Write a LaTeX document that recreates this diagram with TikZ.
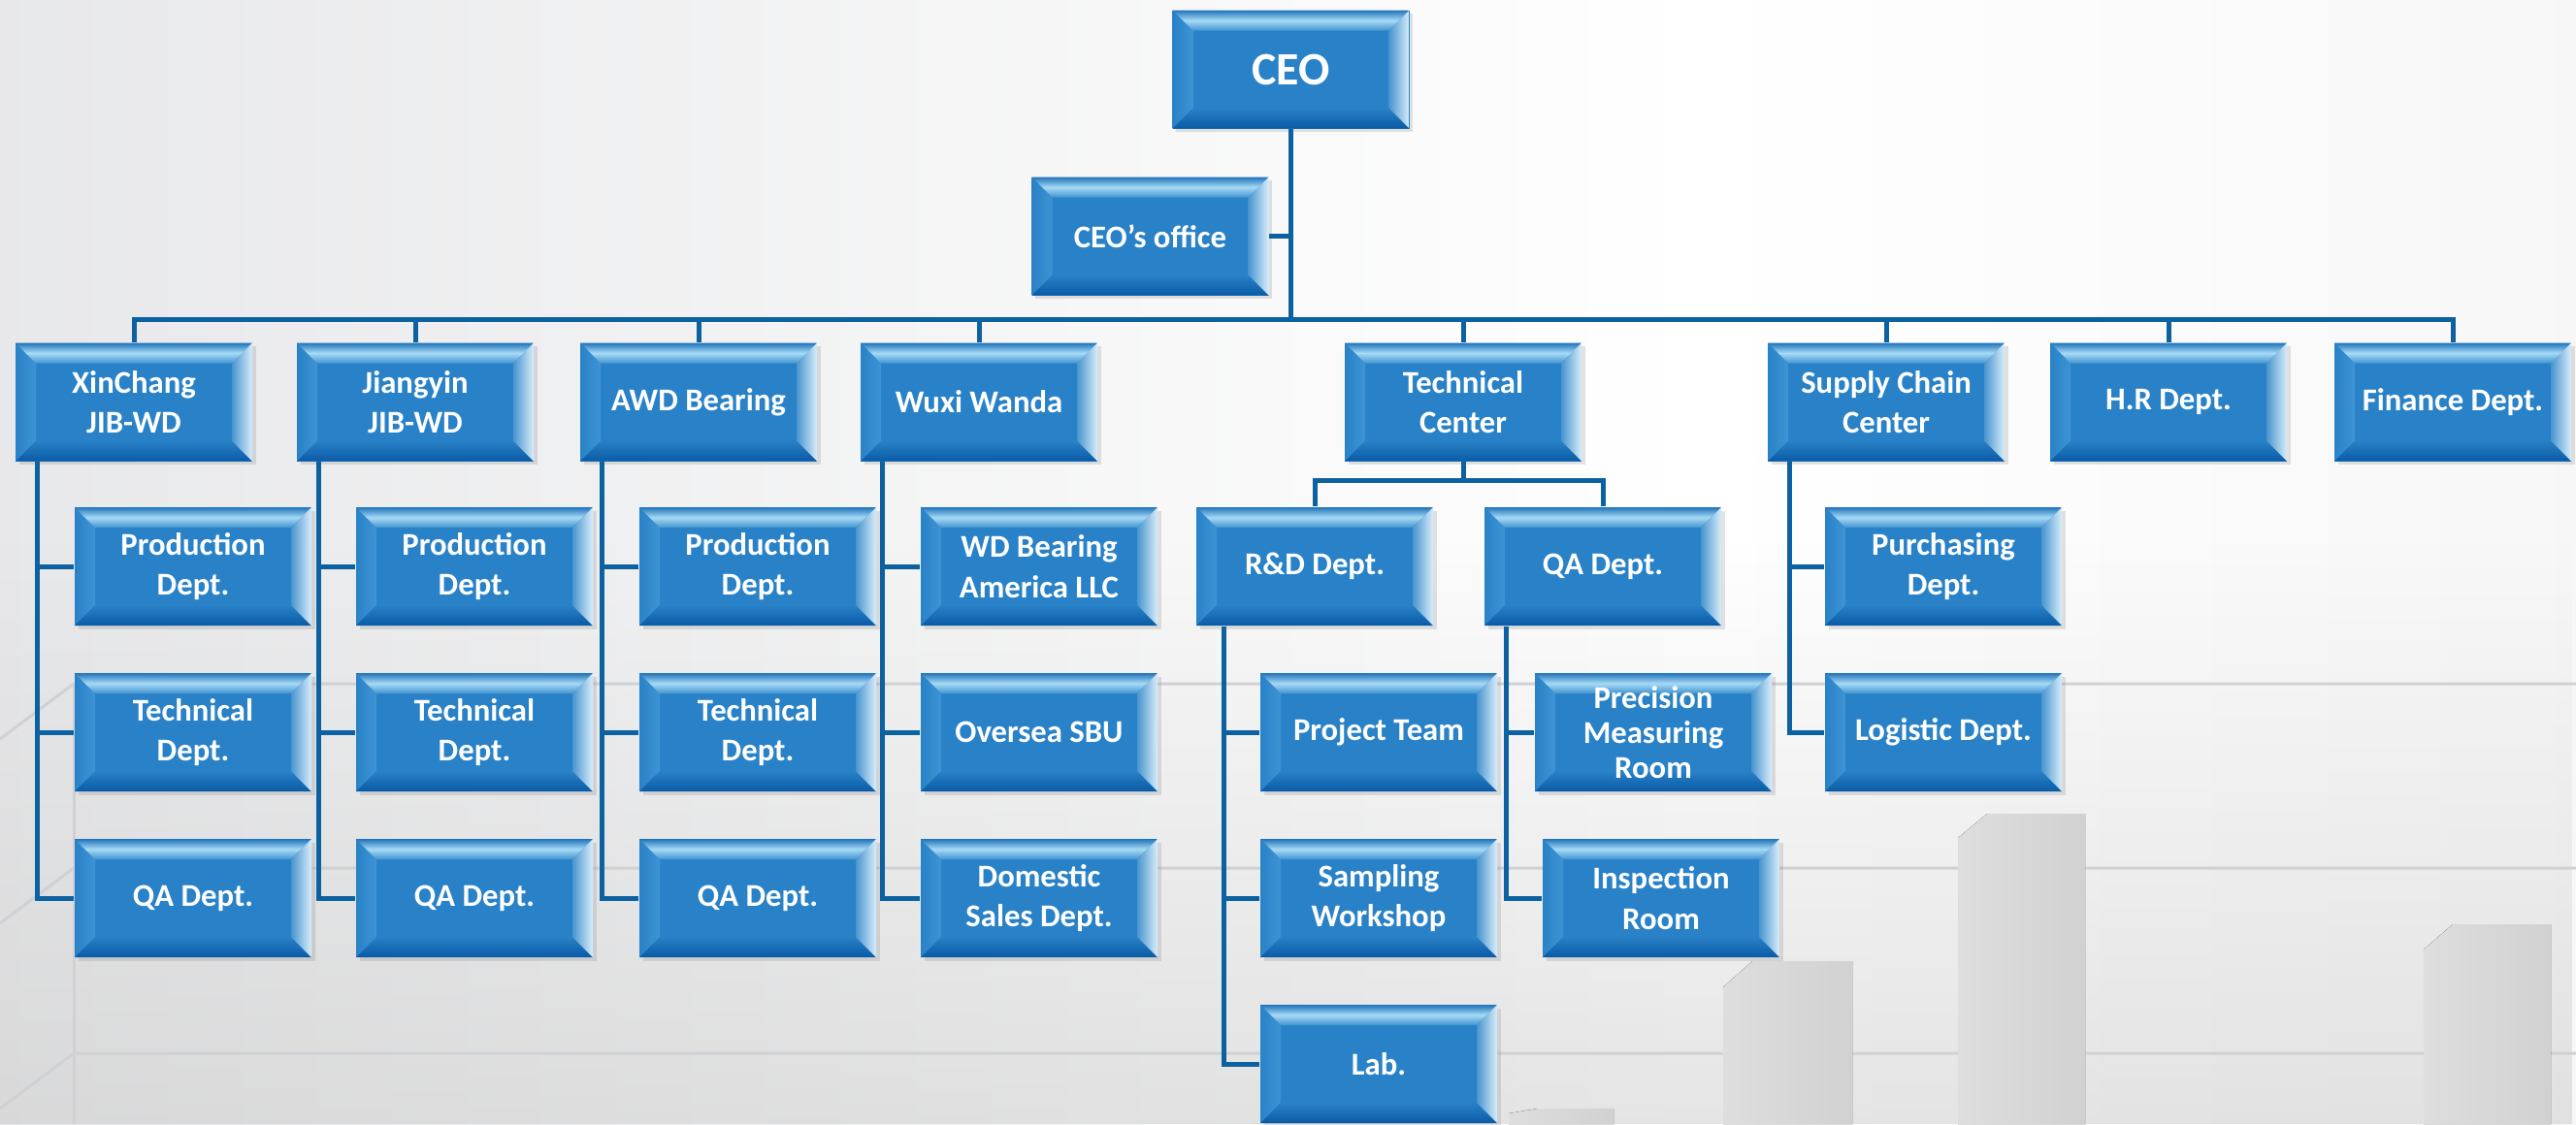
\documentclass[tikz,border=0pt]{standalone}
\usepackage{fontspec}
\setmainfont{Carlito}
\usetikzlibrary{shadows,fadings}

\definecolor{face}{RGB}{41,130,199}
\definecolor{linkblue}{RGB}{12,98,160}
\definecolor{bevtop}{RGB}{166,218,245}
\definecolor{bevedge}{RGB}{32,116,188}
\definecolor{bevleft}{RGB}{62,148,212}
\definecolor{bevright}{RGB}{216,237,250}
\definecolor{bevbot}{RGB}{10,90,166}
\definecolor{bgleft}{RGB}{214,215,218}
\definecolor{bgright}{RGB}{236,236,238}
\definecolor{gridgray}{RGB}{208,209,212}

\pgfdeclarehorizontalshading{bgshade}{100bp}{color(0bp)=(bgleft); color(58bp)=(white); color(100bp)=(bgright)}
\tikzfading[name=fadeup, top color=transparent!100, bottom color=transparent!0]

\begin{document}
\begin{tikzpicture}[
    link/.style={draw=linkblue, line width=.05cm},
    unit/.style={fill=face, text=white, minimum width=2.44cm, minimum height=1.22cm,
        inner sep=1pt, align=center, font=\fontsize{9.3}{11.8}\selectfont\bfseries,
        drop shadow={opacity=.22, shadow xshift=.035cm, shadow yshift=-.035cm, path picture={}},
        path picture={
            \path (path picture bounding box.south west) coordinate (@sw)
                  (path picture bounding box.north east) coordinate (@ne);
            % bevels
            \shade[left color=face, right color=bevleft]
                (@sw) -- (@sw |- @ne) -- ([shift={(.21,-.21)}]@sw |- @ne) -- ([shift={(.21,.21)}]@sw) -- cycle;
            \shade[top color=face, bottom color=bevbot]
                (@sw) -- (@ne |- @sw) -- ([shift={(-.21,.21)}]@ne |- @sw) -- ([shift={(.21,.21)}]@sw) -- cycle;
            \shade[top color=bevedge, bottom color=face!80!bevtop, middle color=bevtop]
                (@sw |- @ne) -- (@ne) -- ([shift={(-.21,-.21)}]@ne) -- ([shift={(.21,-.21)}]@sw |- @ne) -- cycle;
            \shade[left color=face!85!white, right color=bevright]
                (@ne) -- (@ne |- @sw) -- ([shift={(-.21,.21)}]@ne |- @sw) -- ([shift={(-.21,-.21)}]@ne) -- cycle;
        }},
    ceobox/.style={unit, font=\fontsize{13.6}{16}\selectfont\bfseries}
]
    \useasboundingbox (0,0) rectangle (26.55,11.59);

    % background
    \fill[shading=bgshade] (0,0) rectangle (26.55,11.59);
    \fill[gray!45, path fading=fadeup, fill opacity=.45] (0,0) rectangle (26.55,6);
    \foreach \y in {4.54,2.64,0.73}
        \draw[gridgray, line width=.03cm] (0,\y-0.57) -- (0.76,\y) -- (26.55,\y);
    \draw[gridgray, line width=.03cm] (0.76,4.54) -- (0.76,0);
    \foreach \l/\r/\t/\c in {17.76/19.09/1.68/.27, 20.18/21.49/3.20/.25, 24.98/26.29/2.06/.26, 15.55/16.63/0.16/.05}
        \fill[left color=gray!26, right color=gray!36] (\l,0) -- (\l,\t-\c) -- (\l+0.3,\t) -- (\r,\t) -- (\r,0) -- cycle;

    % top
    \node[ceobox] (ceo) at (13.305,10.875) {CEO};
    \node[unit] (office) at (11.855,9.155) {CEO’s office};

    \node[unit] (xin) at (1.38,7.445) {XinChang\\JIB-WD};
    \node[unit] (jy) at (4.28,7.445) {Jiangyin\\JIB-WD};
    \node[unit] (awd) at (7.20,7.445) {AWD Bearing};
    \node[unit] (wx) at (10.09,7.445) {Wuxi Wanda};
    \node[unit] (tech) at (15.08,7.445) {Technical\\Center};
    \node[unit] (sc) at (19.44,7.445) {Supply Chain\\Center};
    \node[unit] (hr) at (22.35,7.445) {H.R Dept.};
    \node[unit] (fin) at (25.28,7.445) {Finance Dept.};

    \coordinate (bus) at (13.305,8.30);
    \draw[link] (ceo.south) -- (bus);
    \draw[link] (office.east) -- (office.east -| ceo.south);
    \foreach \n in {xin,jy,awd,wx,tech,sc,hr,fin}
        \draw[link] (bus) -| (\n.north);

    % plants
    \foreach \n/\x in {xin/1.99, jy/4.89, awd/7.81} {
        \node[unit] (\n-prod) at (\x,5.75) {Production\\Dept.};
        \node[unit] (\n-tec) at (\x,4.04) {Technical\\Dept.};
        \node[unit] (\n-qa) at (\x,2.33) {QA Dept.};
        \foreach \c in {prod,tec,qa}
            \draw[link] ([xshift=.23cm]\n.south west) |- (\n-\c.west);
    }

    \node[unit] (wdam) at (10.71,5.75) {WD Bearing\\America LLC};
    \node[unit] (oversea) at (10.71,4.04) {Oversea SBU};
    \node[unit] (domestic) at (10.71,2.33) {Domestic\\Sales Dept.};
    \foreach \c in {wdam,oversea,domestic}
        \draw[link] ([xshift=.23cm]wx.south west) |- (\c.west);

    % technical center
    \node[unit] (rnd) at (13.55,5.75) {R\&D Dept.};
    \node[unit] (tqa) at (16.52,5.75) {QA Dept.};
    \coordinate (tbus) at (15.08,6.64);
    \draw[link] (tech.south) -- (tbus);
    \foreach \n in {rnd,tqa}
        \draw[link] (tbus) -| (\n.north);

    \node[unit] (project) at (14.21,4.04) {Project Team};
    \node[unit] (sampling) at (14.21,2.33) {Sampling\\Workshop};
    \node[unit] (lab) at (14.21,0.62) {Lab.};
    \foreach \c in {project,sampling,lab}
        \draw[link] ([xshift=.29cm]rnd.south west) |- (\c.west);

    \node[unit, font=\fontsize{9.3}{10.2}\selectfont\bfseries] (precision) at (17.04,4.04) {Precision\\Measuring\\Room};
    \node[unit] (inspection) at (17.12,2.33) {Inspection\\Room};
    \foreach \c in {precision,inspection}
        \draw[link] ([xshift=.23cm]tqa.south west) |- (\c.west);

    % supply chain
    \node[unit] (purchasing) at (20.03,5.75) {Purchasing\\Dept.};
    \node[unit] (logistic) at (20.03,4.04) {Logistic Dept.};
    \foreach \c in {purchasing,logistic}
        \draw[link] ([xshift=.23cm]sc.south west) |- (\c.west);
\end{tikzpicture}
\end{document}
